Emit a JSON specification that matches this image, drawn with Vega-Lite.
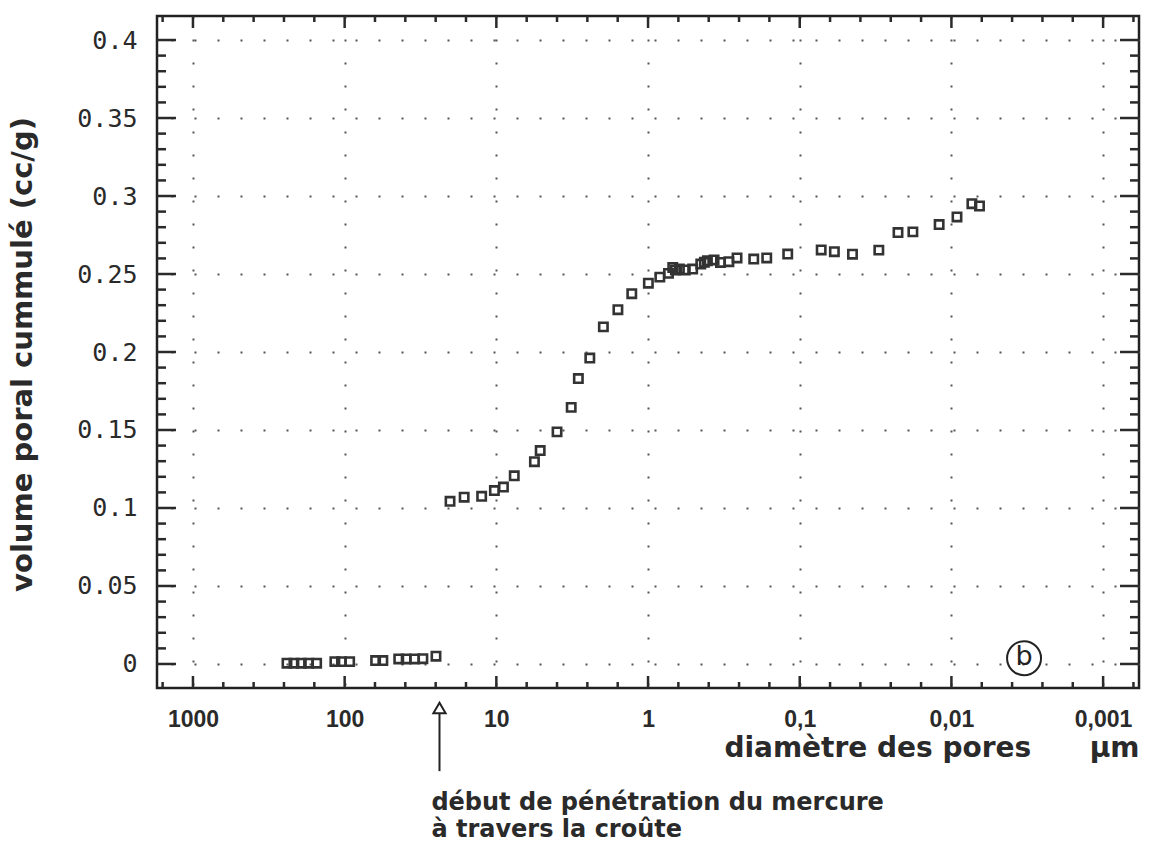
{
  "$schema": "https://vega.github.io/schema/vega-lite/v6.json",
  "width": 982,
  "height": 672,
  "autosize": {"type": "none"},
  "padding": {"left": 157, "top": 16, "right": 16, "bottom": 157},
  "background": "#ffffff",
  "config": {
    "view": {"stroke": "#222222", "strokeWidth": 2.5},
    "axis": {"domain": false, "labelColor": "#2a2a2a", "titleColor": "#2a2a2a", "labelOverlap": false, "labelFlush": false}
  },
  "datasets": {
    "xmajor": [{"d": 1000}, {"d": 100}, {"d": 10}, {"d": 1}, {"d": 0.1}, {"d": 0.01}, {"d": 0.001}],
    "xminor": [{"d": 1584.89}, {"d": 630.957}, {"d": 398.107}, {"d": 251.189}, {"d": 158.489}, {"d": 63.0957}, {"d": 39.8107}, {"d": 25.1189}, {"d": 15.8489}, {"d": 6.30957}, {"d": 3.98107}, {"d": 2.51189}, {"d": 1.58489}, {"d": 0.630957}, {"d": 0.398107}, {"d": 0.251189}, {"d": 0.158489}, {"d": 0.0630957}, {"d": 0.0398107}, {"d": 0.0251189}, {"d": 0.0158489}, {"d": 0.00630957}, {"d": 0.00398107}, {"d": 0.00251189}, {"d": 0.00158489}, {"d": 0.000630957}],
    "ymajor": [{"v": 0}, {"v": 0.05}, {"v": 0.1}, {"v": 0.15}, {"v": 0.2}, {"v": 0.25}, {"v": 0.3}, {"v": 0.35}, {"v": 0.4}],
    "yminor": [{"v": 0.01}, {"v": 0.02}, {"v": 0.03}, {"v": 0.04}, {"v": 0.06}, {"v": 0.07}, {"v": 0.08}, {"v": 0.09}, {"v": 0.11}, {"v": 0.12}, {"v": 0.13}, {"v": 0.14}, {"v": 0.16}, {"v": 0.17}, {"v": 0.18}, {"v": 0.19}, {"v": 0.21}, {"v": 0.22}, {"v": 0.23}, {"v": 0.24}, {"v": 0.26}, {"v": 0.27}, {"v": 0.28}, {"v": 0.29}, {"v": 0.31}, {"v": 0.32}, {"v": 0.33}, {"v": 0.34}, {"v": 0.36}, {"v": 0.37}, {"v": 0.38}, {"v": 0.39}]
  },
  "layer": [
    {
      "data": {"values": [
        {"d": 240, "v": 0.0005}, {"d": 216, "v": 0.0005}, {"d": 193, "v": 0.0005}, {"d": 173, "v": 0.0005}, {"d": 153, "v": 0.0005},
        {"d": 116, "v": 0.0015}, {"d": 105, "v": 0.0015}, {"d": 92.7, "v": 0.0015},
        {"d": 62.5, "v": 0.0022}, {"d": 56, "v": 0.0022},
        {"d": 44, "v": 0.0032}, {"d": 39.3, "v": 0.0032}, {"d": 34.6, "v": 0.0032}, {"d": 30.5, "v": 0.0034}, {"d": 25, "v": 0.005},
        {"d": 20.2, "v": 0.1043}, {"d": 16.3, "v": 0.1069}, {"d": 12.5, "v": 0.1075}, {"d": 10.3, "v": 0.1112}, {"d": 8.98, "v": 0.1134},
        {"d": 7.62, "v": 0.1206}, {"d": 5.61, "v": 0.1297}, {"d": 5.14, "v": 0.1368}, {"d": 3.98, "v": 0.1488}, {"d": 3.21, "v": 0.1645},
        {"d": 2.88, "v": 0.183}, {"d": 2.42, "v": 0.1961}, {"d": 1.97, "v": 0.2161}, {"d": 1.58, "v": 0.2271}, {"d": 1.28, "v": 0.2374},
        {"d": 0.995, "v": 0.2441}, {"d": 0.836, "v": 0.248}, {"d": 0.733, "v": 0.2504}, {"d": 0.687, "v": 0.2542}, {"d": 0.66, "v": 0.2525},
        {"d": 0.621, "v": 0.2532}, {"d": 0.568, "v": 0.2526}, {"d": 0.508, "v": 0.2532}, {"d": 0.449, "v": 0.2564}, {"d": 0.425, "v": 0.2575},
        {"d": 0.406, "v": 0.2585}, {"d": 0.367, "v": 0.259}, {"d": 0.333, "v": 0.2574}, {"d": 0.293, "v": 0.2579}, {"d": 0.259, "v": 0.2603},
        {"d": 0.201, "v": 0.2596}, {"d": 0.165, "v": 0.2603}, {"d": 0.12, "v": 0.2628}, {"d": 0.0722, "v": 0.2654}, {"d": 0.0591, "v": 0.2643},
        {"d": 0.0449, "v": 0.2627}, {"d": 0.0301, "v": 0.2653}, {"d": 0.0225, "v": 0.2766}, {"d": 0.01795, "v": 0.277}, {"d": 0.01205, "v": 0.2817},
        {"d": 0.00919, "v": 0.2866}, {"d": 0.00733, "v": 0.2951}, {"d": 0.00653, "v": 0.2936}
      ]},
      "mark": {"type": "point", "shape": "square", "filled": false, "size": 70, "strokeWidth": 2.6, "color": "#333333", "opacity": 1},
      "encoding": {
        "x": {
          "field": "d", "type": "quantitative",
          "scale": {"type": "log", "domain": [0.00058, 1726], "reverse": true, "nice": false},
          "axis": {
            "orient": "bottom",
            "values": [1000, 100, 10, 1, 0.1, 0.01, 0.001],
            "ticks": false,
            "labelPadding": 20,
            "labelExpr": "datum.value > 0.5 ? format(datum.value, '.0f') : datum.value > 0.05 ? '0,1' : datum.value > 0.005 ? '0,01' : '0,001'",
            "labelFont": "Liberation Sans", "labelFontWeight": "bold", "labelFontSize": 23, "labelBaseline": "top",
            "grid": true, "gridDash": [2, 21], "gridWidth": 2, "gridColor": "#555555",
            "title": "diamètre des pores\u00a0\u00a0\u00a0\u00a0\u00a0\u00a0µm",
            "titleX": 982, "titleY": 60, "titleAlign": "right", "titleBaseline": "middle", "titleAngle": 0,
            "titleFont": "DejaVu Sans", "titleFontSize": 28, "titleFontWeight": "bold"
          }
        },
        "y": {
          "field": "v", "type": "quantitative",
          "scale": {"domain": [-0.0154, 0.4154], "nice": false, "zero": false},
          "axis": {
            "orient": "left",
            "values": [0, 0.05, 0.1, 0.15, 0.2, 0.25, 0.3, 0.35, 0.4],
            "ticks": false,
            "labelPadding": 20,
            "labelExpr": "toString(datum.value)",
            "labelFont": "DejaVu Sans Mono", "labelFontSize": 25,
            "grid": true, "gridDash": [2, 21], "gridWidth": 2, "gridColor": "#555555",
            "title": "volume poral cummulé (cc/g)",
            "titleX": -135, "titleY": 338, "titleAngle": 270, "titleAlign": "center", "titleBaseline": "middle",
            "titleFont": "DejaVu Sans", "titleFontSize": 29, "titleFontWeight": "bold"
          }
        }
      }
    },
    {
      "data": {"name": "xmajor"},
      "mark": {"type": "rule", "strokeWidth": 2.5, "color": "#2a2a2a"},
      "encoding": {
        "x": {"field": "d", "type": "quantitative", "scale": {"type": "log", "domain": [0.00058, 1726], "reverse": true, "nice": false}},
        "y": {"datum": -0.0154, "type": "quantitative", "scale": {"domain": [-0.0154, 0.4154], "nice": false, "zero": false}},
        "y2": {"datum": -0.00771}
      }
    },
    {
      "data": {"name": "xmajor"},
      "mark": {"type": "rule", "strokeWidth": 2.5, "color": "#2a2a2a"},
      "encoding": {
        "x": {"field": "d", "type": "quantitative", "scale": {"type": "log", "domain": [0.00058, 1726], "reverse": true, "nice": false}},
        "y": {"datum": 0.40771, "type": "quantitative", "scale": {"domain": [-0.0154, 0.4154], "nice": false, "zero": false}},
        "y2": {"datum": 0.4154}
      }
    },
    {
      "data": {"name": "xminor"},
      "mark": {"type": "rule", "strokeWidth": 2.5, "color": "#2a2a2a"},
      "encoding": {
        "x": {"field": "d", "type": "quantitative", "scale": {"type": "log", "domain": [0.00058, 1726], "reverse": true, "nice": false}},
        "y": {"datum": -0.0154, "type": "quantitative", "scale": {"domain": [-0.0154, 0.4154], "nice": false, "zero": false}},
        "y2": {"datum": -0.01155}
      }
    },
    {
      "data": {"name": "xminor"},
      "mark": {"type": "rule", "strokeWidth": 2.5, "color": "#2a2a2a"},
      "encoding": {
        "x": {"field": "d", "type": "quantitative", "scale": {"type": "log", "domain": [0.00058, 1726], "reverse": true, "nice": false}},
        "y": {"datum": 0.41155, "type": "quantitative", "scale": {"domain": [-0.0154, 0.4154], "nice": false, "zero": false}},
        "y2": {"datum": 0.4154}
      }
    },
    {
      "data": {"name": "ymajor"},
      "mark": {"type": "rule", "strokeWidth": 2.5, "color": "#2a2a2a"},
      "encoding": {
        "y": {"field": "v", "type": "quantitative", "scale": {"domain": [-0.0154, 0.4154], "nice": false, "zero": false}},
        "x": {"datum": 1726, "type": "quantitative", "scale": {"type": "log", "domain": [0.00058, 1726], "reverse": true, "nice": false}},
        "x2": {"datum": 1293.5}
      }
    },
    {
      "data": {"name": "ymajor"},
      "mark": {"type": "rule", "strokeWidth": 2.5, "color": "#2a2a2a"},
      "encoding": {
        "y": {"field": "v", "type": "quantitative", "scale": {"domain": [-0.0154, 0.4154], "nice": false, "zero": false}},
        "x": {"datum": 0.00058, "type": "quantitative", "scale": {"type": "log", "domain": [0.00058, 1726], "reverse": true, "nice": false}},
        "x2": {"datum": 0.000774}
      }
    },
    {
      "data": {"name": "yminor"},
      "mark": {"type": "rule", "strokeWidth": 2.5, "color": "#2a2a2a"},
      "encoding": {
        "y": {"field": "v", "type": "quantitative", "scale": {"domain": [-0.0154, 0.4154], "nice": false, "zero": false}},
        "x": {"datum": 1726, "type": "quantitative", "scale": {"type": "log", "domain": [0.00058, 1726], "reverse": true, "nice": false}},
        "x2": {"datum": 1505.7}
      }
    },
    {
      "data": {"name": "yminor"},
      "mark": {"type": "rule", "strokeWidth": 2.5, "color": "#2a2a2a"},
      "encoding": {
        "y": {"field": "v", "type": "quantitative", "scale": {"domain": [-0.0154, 0.4154], "nice": false, "zero": false}},
        "x": {"datum": 0.00058, "type": "quantitative", "scale": {"type": "log", "domain": [0.00058, 1726], "reverse": true, "nice": false}},
        "x2": {"datum": 0.000665}
      }
    },
    {
      "data": {"values": [{"d": 0.00332, "v": 0.0037}]},
      "mark": {"type": "point", "shape": "circle", "filled": false, "size": 1156, "strokeWidth": 2, "color": "#222222", "opacity": 1},
      "encoding": {
        "x": {"field": "d", "type": "quantitative", "scale": {"type": "log", "domain": [0.00058, 1726], "reverse": true, "nice": false}},
        "y": {"field": "v", "type": "quantitative", "scale": {"domain": [-0.0154, 0.4154], "nice": false, "zero": false}}
      }
    },
    {
      "data": {"values": [{"d": 0.00332, "v": 0.0037, "t": "b"}]},
      "mark": {"type": "text", "font": "DejaVu Sans", "fontSize": 27, "align": "center", "baseline": "middle", "color": "#222222", "dy": -1},
      "encoding": {
        "x": {"field": "d", "type": "quantitative", "scale": {"type": "log", "domain": [0.00058, 1726], "reverse": true, "nice": false}},
        "y": {"field": "v", "type": "quantitative", "scale": {"domain": [-0.0154, 0.4154], "nice": false, "zero": false}},
        "text": {"field": "t"}
      }
    },
    {
      "data": {"values": [{"d": 23.7, "v": -0.0315, "v2": -0.0687}]},
      "mark": {"type": "rule", "strokeWidth": 2, "color": "#222222"},
      "encoding": {
        "x": {"field": "d", "type": "quantitative", "scale": {"type": "log", "domain": [0.00058, 1726], "reverse": true, "nice": false}},
        "y": {"field": "v", "type": "quantitative", "scale": {"domain": [-0.0154, 0.4154], "nice": false, "zero": false}},
        "y2": {"field": "v2"}
      }
    },
    {
      "data": {"values": [{"d": 23.7, "v": -0.0282}]},
      "mark": {"type": "point", "shape": "triangle-up", "filled": false, "size": 150, "strokeWidth": 2, "color": "#222222", "opacity": 1},
      "encoding": {
        "x": {"field": "d", "type": "quantitative", "scale": {"type": "log", "domain": [0.00058, 1726], "reverse": true, "nice": false}},
        "y": {"field": "v", "type": "quantitative", "scale": {"domain": [-0.0154, 0.4154], "nice": false, "zero": false}}
      }
    },
    {
      "data": {"values": [
        {"d": 26.8, "v": -0.0892, "t": "début de pénétration du mercure"},
        {"d": 26.8, "v": -0.1066, "t": "à travers la croûte"}
      ]},
      "mark": {"type": "text", "font": "DejaVu Sans", "fontWeight": "bold", "fontSize": 24, "align": "left", "baseline": "middle", "color": "#2a2a2a"},
      "encoding": {
        "x": {"field": "d", "type": "quantitative", "scale": {"type": "log", "domain": [0.00058, 1726], "reverse": true, "nice": false}},
        "y": {"field": "v", "type": "quantitative", "scale": {"domain": [-0.0154, 0.4154], "nice": false, "zero": false}},
        "text": {"field": "t"}
      }
    }
  ]
}
